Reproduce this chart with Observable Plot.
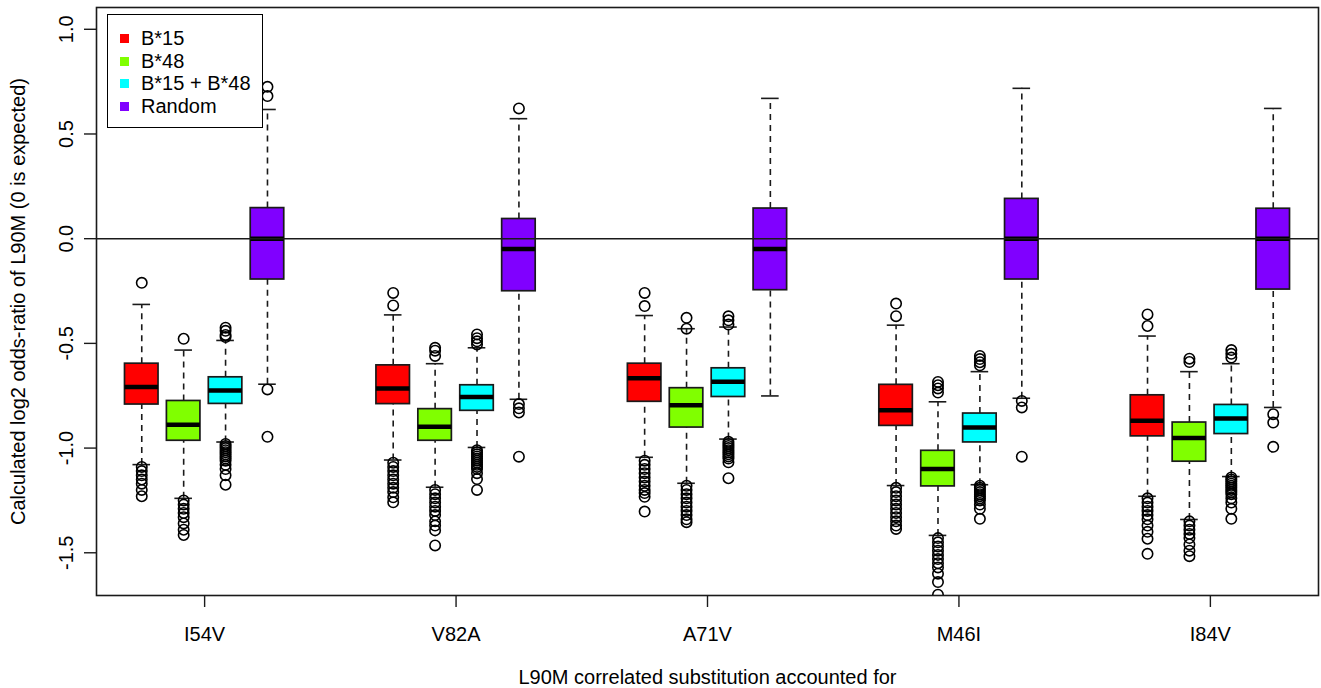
<!DOCTYPE html>
<html><head><meta charset="utf-8">
<script src="https://cdn.jsdelivr.net/npm/d3@7"></script>
<script src="https://cdn.jsdelivr.net/npm/@observablehq/plot@0.6"></script>
<style>
body{margin:0;background:#fff;}
#wrap{position:relative;width:1321px;height:688px;font-family:"Liberation Sans",Arial,sans-serif;}
#legend{position:absolute;left:107px;top:14px;width:156px;height:114px;border:1.5px solid #000;background:#fff;box-sizing:border-box;font-size:20px;color:#000;}
.item{position:absolute;left:0;height:22px;line-height:22px;}
.sw{position:absolute;left:12px;top:7px;width:9px;height:9px;}
.lab{position:absolute;left:33px;top:0;white-space:nowrap;}
</style></head>
<body><div id="wrap"><div id="chart"></div><div id="legend"></div></div>
<script>
// Categories and series
const groups = ["I54V", "V82A", "A71V", "M46I", "I84V"];
const series = ["B*15", "B*48", "B*15 + B*48", "Random"];
const colors = ["#FF0000", "#80FF00", "#00FFFF", "#8000FF"];
const yTicks = [-1.5, -1.0, -0.5, 0.0, 0.5, 1.0];

// Box statistics: one row per series, one value per group
const whiskerLow = [
  [-1.079, -1.057, -1.044, -1.179, -1.230],
  [-1.240, -1.187, -1.168, -1.417, -1.341],
  [-0.971, -0.997, -0.957, -1.175, -1.136],
  [-0.695, -0.767, -0.751, -0.762, -0.806]
];
const q1 = [
  [-0.792, -0.790, -0.779, -0.894, -0.944],
  [-0.965, -0.965, -0.902, -1.183, -1.065],
  [-0.789, -0.822, -0.756, -0.973, -0.933],
  [-0.195, -0.251, -0.246, -0.195, -0.243]
];
const median = [
  [-0.708, -0.716, -0.667, -0.819, -0.870],
  [-0.889, -0.898, -0.795, -1.100, -0.952],
  [-0.725, -0.756, -0.683, -0.902, -0.859],
  [0.000, -0.049, -0.049, 0.000, 0.000]
];
const q3 = [
  [-0.597, -0.605, -0.597, -0.698, -0.748],
  [-0.775, -0.814, -0.714, -1.013, -0.878],
  [-0.662, -0.700, -0.619, -0.835, -0.794],
  [0.146, 0.094, 0.144, 0.190, 0.143]
];
const whiskerHigh = [
  [-0.314, -0.364, -0.367, -0.413, -0.465],
  [-0.532, -0.597, -0.430, -0.779, -0.635],
  [-0.486, -0.521, -0.422, -0.635, -0.597],
  [0.617, 0.573, 0.670, 0.718, 0.622]
];
// Outliers: [series][group]
const outliers = [
  [
    [-0.211, -1.09, -1.11, -1.13, -1.15, -1.17, -1.20, -1.23],
    [-0.259, -0.319, -1.07, -1.09, -1.11, -1.13, -1.15, -1.17, -1.19, -1.21, -1.235, -1.259],
    [-0.259, -0.322, -1.06, -1.08, -1.10, -1.12, -1.14, -1.16, -1.18, -1.20, -1.215, -1.233, -1.303],
    [-0.310, -0.370, -1.19, -1.21, -1.23, -1.25, -1.27, -1.29, -1.31, -1.33, -1.35, -1.37, -1.386],
    [-0.362, -0.417, -1.24, -1.26, -1.28, -1.30, -1.32, -1.34, -1.37, -1.40, -1.433, -1.505]
  ],
  [
    [-0.478, -1.25, -1.27, -1.29, -1.31, -1.33, -1.36, -1.39, -1.415],
    [-0.521, -0.535, -0.560, -1.20, -1.22, -1.24, -1.26, -1.28, -1.30, -1.32, -1.35, -1.37, -1.393, -1.465],
    [-0.378, -0.430, -1.18, -1.20, -1.22, -1.24, -1.26, -1.28, -1.30, -1.32, -1.34, -1.354],
    [-0.684, -0.700, -0.715, -0.735, -1.43, -1.45, -1.47, -1.49, -1.51, -1.53, -1.55, -1.57, -1.60, -1.64, -1.70],
    [-0.573, -0.589, -1.35, -1.37, -1.39, -1.41, -1.43, -1.46, -1.49, -1.516]
  ],
  [
    [-0.425, -0.44, -0.46, -0.47, -0.98, -0.99, -1.00, -1.01, -1.02, -1.03, -1.04, -1.05, -1.06, -1.08, -1.10, -1.13, -1.175],
    [-0.457, -0.475, -0.49, -0.505, -1.01, -1.02, -1.03, -1.04, -1.05, -1.06, -1.07, -1.08, -1.09, -1.10, -1.12, -1.148, -1.20],
    [-0.371, -0.39, -0.41, -0.97, -0.98, -0.99, -1.00, -1.01, -1.02, -1.03, -1.04, -1.05, -1.068, -1.144],
    [-0.56, -0.575, -0.59, -0.605, -1.18, -1.19, -1.20, -1.21, -1.22, -1.23, -1.24, -1.25, -1.27, -1.29, -1.338],
    [-0.532, -0.55, -0.568, -1.14, -1.15, -1.16, -1.17, -1.18, -1.19, -1.20, -1.21, -1.22, -1.24, -1.26, -1.29, -1.338]
  ],
  [
    [0.725, 0.681, -0.72, -0.946],
    [0.622, -0.79, -0.81, -0.83, -1.041],
    [],
    [-0.775, -0.806, -1.041],
    [-0.838, -0.878, -0.994]
  ]
];

// Build tables
const rows = [];
const outs = [];
series.forEach((s, si) => groups.forEach((g, gi) => {
  const pos = gi * 6 + si + 1;
  rows.push({pos, series: s, lo: whiskerLow[si][gi], q1: q1[si][gi], med: median[si][gi], q3: q3[si][gi], hi: whiskerHigh[si][gi]});
  outliers[si][gi].forEach(v => outs.push({pos, v}));
}));
const groupCenters = groups.map((g, gi) => gi * 6 + 2.5);

const ink = "#1a1a1a";
const chart = Plot.plot({
  width: 1321,
  height: 688,
  marginLeft: 96,
  marginRight: 3,
  marginTop: 7,
  marginBottom: 93,
  style: {fontFamily: "'Liberation Sans', Arial, sans-serif", fontSize: "20px", color: "#000", background: "#fff"},
  x: {domain: [-0.08, 29.08]},
  y: {domain: [-1.704, 1.104]},
  color: {domain: series, range: colors},
  marks: [
    Plot.ruleX(rows, {x: "pos", y1: "q3", y2: "hi", stroke: ink, strokeWidth: 1.6, strokeDasharray: "6,5"}),
    Plot.ruleX(rows, {x: "pos", y1: "lo", y2: "q1", stroke: ink, strokeWidth: 1.6, strokeDasharray: "6,5"}),
    Plot.ruleY(rows, {y: "hi", x1: d => d.pos - 0.21, x2: d => d.pos + 0.21, stroke: ink, strokeWidth: 1.6}),
    Plot.ruleY(rows, {y: "lo", x1: d => d.pos - 0.21, x2: d => d.pos + 0.21, stroke: ink, strokeWidth: 1.6}),
    Plot.rect(rows, {x1: d => d.pos - 0.4, x2: d => d.pos + 0.4, y1: "q1", y2: "q3", fill: "series", stroke: ink, strokeWidth: 1.7}),
    Plot.ruleY(rows, {y: "med", x1: d => d.pos - 0.4, x2: d => d.pos + 0.4, stroke: "#000", strokeWidth: 4.5}),
    Plot.dot(outs, {x: "pos", y: "v", r: 5.2, stroke: "#000", strokeWidth: 1.6, fill: "none", clip: true}),
    Plot.ruleY([0], {stroke: ink, strokeWidth: 1.4}),
    Plot.frame({stroke: ink, strokeWidth: 1.6}),
    Plot.axisX({ticks: groupCenters, tickSize: 12, tickPadding: 19, tickFormat: d => groups[groupCenters.indexOf(d)],
      label: "L90M correlated substitution accounted for", labelAnchor: "center", labelArrow: "none", labelOffset: 88, stroke: ink, strokeWidth: 1.4}),
    Plot.axisY({ticks: yTicks, tickSize: 12, tickPadding: 12, tickRotate: -90, tickFormat: d => d.toFixed(1),
      label: "Calculated log2 odds-ratio of L90M (0 is expected)", labelAnchor: "center", labelArrow: "none", labelOffset: 86, stroke: ink, strokeWidth: 1.4})
  ]
});
document.getElementById("chart").appendChild(chart);

// Legend
const legend = document.getElementById("legend");
series.forEach((s, i) => {
  const item = document.createElement("div");
  item.className = "item";
  item.style.top = (12 + 22.6 * i) + "px";
  const sw = document.createElement("div");
  sw.className = "sw";
  sw.style.background = colors[i];
  const lab = document.createElement("div");
  lab.className = "lab";
  lab.textContent = s;
  item.appendChild(sw);
  item.appendChild(lab);
  legend.appendChild(item);
});
</script>
</body></html>
